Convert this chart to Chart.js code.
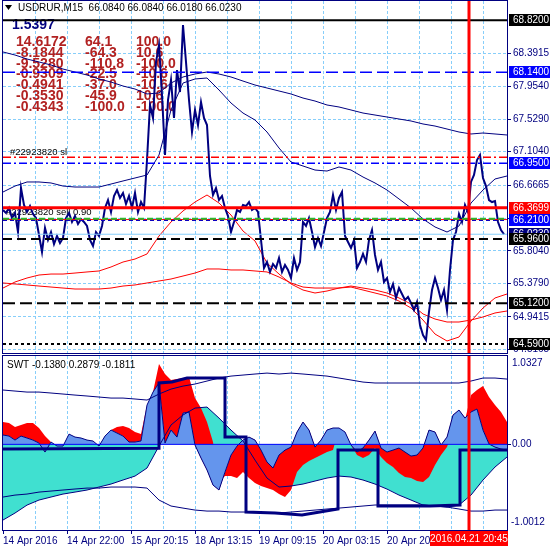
<!DOCTYPE html>
<html>
<head>
<meta charset="utf-8">
<script src="https://cdn.jsdelivr.net/npm/chart.js@4.4.1/dist/chart.umd.min.js"></script>
<style>
  html, body { margin: 0; padding: 0; background: #fff; }
  #wrap { position: relative; width: 550px; height: 550px; overflow: hidden; background: #fff; }
  canvas { position: absolute; left: 0; }
  #main { top: 0; }
  #sub { top: 354px; }
</style>
</head>
<body>
<div id="wrap">
  <canvas id="main" width="550" height="354"></canvas>
  <canvas id="sub" width="550" height="196"></canvas>
</div>
<script>
// ---- data (x = bar position, 1 unit per pixel column) ----
const priceClose = [
  66.340, 66.301, 66.366, 66.235, 66.301, 66.052, 66.627, 66.405, 66.314, 66.392,
  66.287, 66.235, 66.013, 65.791, 66.105, 65.948, 66.052, 65.895, 66.000, 65.908,
  65.974, 66.235, 66.301, 66.183, 66.261, 66.157, 66.222, 66.183, 66.131, 65.948,
  65.869, 66.052, 66.000, 66.131, 66.366, 66.470, 66.314, 66.523, 66.601, 66.497,
  66.562, 66.418, 66.523, 66.366, 66.562, 66.314, 66.444, 66.366, 66.993, 67.712,
  67.542, 68.274, 68.496, 67.843, 67.058, 67.777, 68.038, 67.542, 68.169, 67.882,
  68.757, 68.274, 67.777, 67.359, 67.647, 67.450, 67.751, 67.542, 67.450, 66.784,
  66.536, 66.627, 66.470, 66.523, 66.366, 66.261, 66.052, 66.183, 66.340, 66.314,
  66.405, 66.392, 66.444, 66.340, 66.366, 66.314, 65.948, 65.582, 65.660, 65.530,
  65.634, 65.582, 65.712, 65.530, 65.621, 65.556, 65.451, 65.712, 65.556, 65.660,
  66.183, 66.131, 66.235, 66.052, 65.856, 65.974, 65.869, 66.052, 66.235, 66.314,
  66.536, 66.340, 66.497, 66.575, 66.000, 65.921, 65.843, 65.948, 65.582, 65.660,
  65.765, 65.660, 65.948, 66.078, 65.752, 65.556, 65.660, 65.399, 65.451, 65.268,
  65.373, 65.190, 65.320, 65.242, 65.164, 65.203, 65.124, 65.033, 65.138, 64.837,
  64.706, 64.641, 65.007, 65.294, 65.451, 65.320, 65.164, 65.294, 65.033, 65.556,
  65.948, 66.052, 66.287, 66.183, 66.405, 66.314, 66.706, 66.797, 66.993, 67.058,
  66.758, 66.653, 66.470, 66.444, 66.457, 66.183, 66.078, 66.023
];
const priceStep = 3;

const bandHigh = [68.405, 68.365, 68.313, 68.274, 68.235, 68.182, 68.143, 68.104, 68.052, 68.012,
  67.960, 67.921, 67.856, 67.869, 67.999, 68.078, 68.117, 68.143, 68.117, 68.078,
  68.025, 67.973, 67.934, 67.895, 67.856, 67.803, 67.764, 67.712, 67.686, 67.647,
  67.607, 67.581, 67.555, 67.529, 67.503, 67.464, 67.437, 67.398, 67.359, 67.333,
  67.346, 67.333, 67.320];
const bandMid = [66.575, 66.653, 66.706, 66.706, 66.693, 66.653, 66.640, 66.640, 66.640, 66.679,
  66.719, 66.758, 66.797, 67.058, 67.647, 67.999, 68.052, 68.065, 67.908, 67.738,
  67.607, 67.516, 67.359, 67.150, 66.967, 66.915, 66.862, 66.849, 66.902, 66.862,
  66.771, 66.693, 66.601, 66.484, 66.366, 66.222, 66.118, 66.052, 66.131, 66.431,
  66.601, 66.745, 66.784];
const maFast = [65.320, 65.399, 65.451, 65.490, 65.503, 65.503, 65.516, 65.530, 65.543, 65.595,
  65.660, 65.699, 65.765, 66.000, 66.183, 66.327, 66.444, 66.536, 66.431, 66.274,
  66.065, 65.935, 65.647, 65.503, 65.373, 65.294, 65.255, 65.281, 65.320, 65.333,
  65.294, 65.255, 65.216, 65.150, 65.059, 64.902, 64.719, 64.628, 64.680, 64.889,
  65.059, 65.190, 65.242];
const maSlow = [65.386, 65.373, 65.360, 65.346, 65.333, 65.320, 65.307, 65.307, 65.307, 65.320,
  65.346, 65.360, 65.386, 65.412, 65.438, 65.477, 65.516, 65.569, 65.569, 65.556,
  65.556, 65.543, 65.530, 65.464, 65.386, 65.333, 65.320, 65.320, 65.320, 65.346,
  65.320, 65.294, 65.255, 65.190, 65.111, 64.981, 64.915, 64.876, 64.876, 64.902,
  64.942, 64.994, 65.020];
const lineStep = 12;

// horizontal chart objects and their axis tags
const levelPrices = [68.82, 68.14, 67.03, 66.95, 66.3699, 66.225, 66.215, 66.21, 66.023, 65.96, 65.12, 64.59];
const boxPrices = [68.82, 68.14, 66.95, 66.3699, 66.023, 66.21, 65.96, 65.12, 64.59];
const priceTicks = [68.3915, 67.9540, 67.5290, 67.1040, 66.6665, 66.2352, 65.8040, 65.3790, 64.9415, 64.5165];

// SWT sub window
const swtFast = [0.109, 0.097, 0.050, 0.097, 0.074, 0.050, 0.015, -0.090, 0.027, -0.020,
  -0.020, 0.120, 0.085, 0.074, 0.050, 0.039, -0.020, 0.097, 0.167, 0.132,
  0.097, 0.027, 0.027, 0.039, 0.459, 0.611, 0.717, 0.015, 0.167, 0.085,
  0.366, 0.378, -0.008, -0.160, -0.300, -0.476, -0.534, -0.324, -0.125, -0.020,
  0.050, 0.085, 0.050, -0.067, -0.207, -0.277, -0.125, -0.067, -0.032, 0.144,
  0.261, 0.167, -0.032, 0.050, 0.167, 0.191, 0.191, 0.144, -0.008, -0.090,
  -0.043, 0.050, 0.155, -0.043, -0.090, -0.067, -0.043, -0.090, -0.137, -0.125,
  -0.043, 0.167, 0.144, -0.008, 0.085, 0.342, 0.401, 0.307, 0.378, 0.413,
  0.167, 0.004, -0.032, -0.055, -0.067];
const swtSignal = [0.261, 0.249, 0.202, 0.226, 0.249, 0.249, 0.191, 0.097, 0.027, -0.020,
  -0.020, 0.120, 0.085, 0.074, 0.050, 0.039, -0.020, 0.097, 0.167, 0.202,
  0.214, 0.191, 0.144, 0.120, 0.459, 0.611, 0.939, 0.822, 0.752, 0.763,
  0.775, 0.787, 0.541, 0.424, 0.261, 0.027, -0.441, -0.371, -0.371, -0.394,
  -0.324, -0.394, -0.452, -0.487, -0.511, -0.534, -0.581, -0.616, -0.534, -0.324,
  -0.242, -0.195, -0.160, -0.125, -0.090, -0.067, 0.191, 0.144, -0.008, -0.125,
  -0.160, -0.125, -0.043, -0.148, -0.219, -0.265, -0.335, -0.382, -0.394, -0.429,
  -0.441, -0.382, -0.242, -0.125, -0.032, 0.167, 0.307, 0.284, 0.576, 0.635,
  0.681, 0.553, 0.459, 0.378, 0.261];
const swtStep = 6;
const swtSlow = [-0.885, -0.803, -0.710, -0.651, -0.616, -0.581, -0.558, -0.534, -0.499, -0.464,
  -0.417, -0.371, -0.277, -0.020, 0.226, 0.343, 0.424, 0.436, 0.307, 0.167,
  0.039, -0.184, -0.394, -0.499, -0.487, -0.464, -0.429, -0.394, -0.371, -0.382,
  -0.417, -0.464, -0.523, -0.593, -0.651, -0.710, -0.721, -0.733, -0.710, -0.593,
  -0.417, -0.265, -0.148];
const swtUpper = [0.635, 0.623, 0.611, 0.611, 0.600, 0.588, 0.576, 0.565, 0.553, 0.541,
  0.541, 0.530, 0.518, 0.588, 0.646, 0.681, 0.705, 0.740, 0.775, 0.798,
  0.810, 0.822, 0.833, 0.822, 0.833, 0.822, 0.810, 0.798, 0.775, 0.752,
  0.728, 0.717, 0.717, 0.717, 0.717, 0.717, 0.717, 0.717, 0.717, 0.740,
  0.775, 0.775, 0.763];
const swtLower = [-0.616, -0.593, -0.581, -0.558, -0.546, -0.534, -0.522, -0.511, -0.511, -0.499,
  -0.499, -0.499, -0.511, -0.651, -0.721, -0.745, -0.768, -0.780, -0.780, -0.791,
  -0.791, -0.791, -0.803, -0.803, -0.791, -0.780, -0.768, -0.756, -0.745, -0.733,
  -0.721, -0.709, -0.709, -0.709, -0.709, -0.709, -0.721, -0.733, -0.756, -0.780,
  -0.780, -0.768, -0.768];
const trailBars = [0, 156, 156, 169, 184, 222, 222, 243, 243, 272, 299, 335, 335, 375, 375, 427, 457, 457, 504];
const trailValues = [-0.055, -0.045, 0.717, 0.728, 0.775, 0.775, 0.085, 0.085, -0.791, -0.803,
  -0.826, -0.756, -0.067, -0.067, -0.721, -0.721, -0.709, -0.067, -0.067];

// time axis
const gridBars = [32, 64, 96, 128, 160, 192, 224, 256, 288, 320, 352, 384, 416, 448, 480];
const timeLabelBars = [0, 64, 128, 192, 256, 320, 384, 448];
const timeLabels = ['14 Apr 2016', '14 Apr 22:00', '15 Apr 20:15', '18 Apr 13:15',
  '19 Apr 09:15', '20 Apr 03:15', '20 Apr 20:45', '21 Apr 13:45'];
const markerBar = 466;
const markerLabel = '2016.04.21 20:45';

const headerText = 'USDRUR,M15  66.0840 66.0840 66.0180 66.0230';
const spreadText = '1.5397';
const statRows = [
  ['14.6172', '64.1', '100.0'],
  ['-8.1844', '-64.3', '10.6'],
  ['-9.5280', '-110.8', '-100.0'],
  ['-0.9309', '-22.5', '-10.6'],
  ['-0.4941', '-37.0', '-10.6'],
  ['-0.3530', '-45.9', '10.6'],
  ['-0.4343', '-100.0', '-100.0']
];
const orderSlText = '#22923820 sl';
const orderText = '#22923820 sell 0.90';
const swtText = 'SWT -0.1380 0.2879 -0.1811';

// ---- styles ----
const NAVY = '#000080';
const GRID = '#87cefa';
const FONT = '"Liberation Sans", Arial, sans-serif';
const levelStyles = [
  ['#000000', 2, []],
  ['#0000ff', 1.5, [12, 5]],
  ['#ff0000', 1.5, [8, 3, 2, 3]],
  ['#0000ff', 1.5, [8, 3, 2, 3]],
  ['#ff0000', 3, []],
  ['#2db82d', 2, [6, 3]],
  ['#ff0000', 1, []],
  ['#0000cc', 2, [4, 3]],
  ['#87cefa', 1, []],
  ['#000000', 2, [9, 5]],
  ['#000000', 2, [12, 5]],
  ['#000000', 2, [3, 3]]
];
const boxColors = ['#000000', '#0000ff', '#0000ff', '#ff0000', NAVY, '#0000ff', '#000000', '#000000', '#000000'];

Chart.defaults.font.family = FONT;
Chart.defaults.font.size = 10;
Chart.defaults.color = NAVY;

const X_MIN = 0, X_MAX = 504;
const toPoints = (vals, step) => vals.map((v, i) => ({x: i * step, y: v}));
const line = (label, data, color, width, order, extra) => Object.assign({
  label: label, data: data, borderColor: color, borderWidth: width,
  pointRadius: 0, tension: 0, fill: false, order: order
}, extra || {});

function drawFrame(ctx, a) {
  ctx.strokeStyle = NAVY;
  ctx.lineWidth = 1;
  ctx.setLineDash([]);
  ctx.strokeRect(Math.round(a.left) - 0.5, Math.round(a.top) - 0.5,
    Math.round(a.right - a.left) + 1, Math.round(a.bottom - a.top) + 1);
}

function drawMarker(chart) {
  const {ctx, chartArea: a, scales: {x}} = chart;
  const vx = x.getPixelForValue(markerBar);
  ctx.strokeStyle = '#ff0000';
  ctx.lineWidth = 3;
  ctx.setLineDash([]);
  ctx.beginPath();
  ctx.moveTo(vx, a.top);
  ctx.lineTo(vx, a.bottom);
  ctx.stroke();
  return vx;
}

// ---- main price window ----
const mainText = {
  id: 'mainText',
  beforeDatasetsDraw(chart) {
    const {ctx} = chart;
    ctx.save();
    ctx.textBaseline = 'middle';
    ctx.textAlign = 'left';
    // title
    ctx.fillStyle = '#000000';
    ctx.beginPath();
    ctx.moveTo(5, 5); ctx.lineTo(12, 5); ctx.lineTo(8.5, 10); ctx.closePath();
    ctx.fill();
    ctx.font = '10px ' + FONT;
    ctx.fillText(headerText, 18, 8);
    // spread
    ctx.fillStyle = NAVY;
    ctx.font = 'bold 14px ' + FONT;
    ctx.fillText(spreadText, 12, 25);
    // stats table
    ctx.fillStyle = '#b22222';
    ctx.font = 'bold 14px ' + FONT;
    const cols = [16, 85, 136];
    statRows.forEach((row, r) => {
      row.forEach((t, c) => ctx.fillText(t, cols[c], 42 + r * 10.83));
    });
    // order labels
    ctx.fillStyle = '#000000';
    ctx.font = '9.5px ' + FONT;
    ctx.fillText(orderSlText, 10, 152.5);
    ctx.fillText(orderText, 6, 212.5);
    ctx.restore();
  },
  afterDraw(chart) {
    const {ctx, chartArea: a, scales: {y}} = chart;
    ctx.save();
    drawMarker(chart);
    drawFrame(ctx, a);
    ctx.font = '10px ' + FONT;
    ctx.textBaseline = 'middle';
    ctx.textAlign = 'left';
    boxPrices.forEach((p, i) => {
      const py = Math.round(y.getPixelForValue(p));
      ctx.fillStyle = boxColors[i];
      ctx.fillRect(a.right + 2, py - 6, 550 - a.right - 2, 12);
      ctx.fillStyle = '#ffffff';
      ctx.fillText(p.toFixed(4), a.right + 6, py + 0.5);
    });
    ctx.restore();
  }
};

const mainDatasets = [
  line('USDRUR', toPoints(priceClose, priceStep), NAVY, 2, 3),
  line('Band high', toPoints(bandHigh, lineStep), NAVY, 1, 6),
  line('Band mid', toPoints(bandMid, lineStep), NAVY, 1, 6),
  line('MA fast', toPoints(maFast, lineStep), '#ff0000', 1, 5),
  line('MA slow', toPoints(maSlow, lineStep), '#ff0000', 1, 5)
];
levelPrices.forEach((p, i) => {
  const s = levelStyles[i];
  mainDatasets.push(line('level ' + p, [{x: X_MIN, y: p}, {x: X_MAX, y: p}], s[0], s[1], 1, {borderDash: s[2]}));
});

new Chart(document.getElementById('main'), {
  type: 'line',
  data: {datasets: mainDatasets},
  options: {
    responsive: false,
    animation: false,
    devicePixelRatio: 1,
    layout: {padding: {left: 3, top: 1, right: 0, bottom: 1}, autoPadding: false},
    plugins: {legend: {display: false}, tooltip: {enabled: false}},
    scales: {
      x: {
        type: 'linear', min: X_MIN, max: X_MAX,
        afterBuildTicks: s => { s.ticks = gridBars.map(v => ({value: v})); },
        afterFit: s => { s.height = 0; s.paddingLeft = 0; s.paddingRight = 0; },
        ticks: {display: false},
        grid: {color: GRID, drawTicks: false, lineWidth: 1},
        border: {display: false, dash: [3, 2]}
      },
      y: {
        type: 'linear', position: 'right', min: 64.471, max: 69.0711,
        afterBuildTicks: s => { s.ticks = priceTicks.map(v => ({value: v})); },
        afterFit: s => { s.width = 43; s.paddingTop = 0; s.paddingBottom = 0; },
        ticks: {callback: v => v.toFixed(4), padding: 2, autoSkip: false, color: NAVY},
        grid: {color: GRID, tickColor: NAVY, tickLength: 4, tickBorderDash: []},
        border: {display: true, color: NAVY, dash: [3, 2]}
      }
    }
  },
  plugins: [mainText]
});

// ---- SWT sub window ----
const subText = {
  id: 'subText',
  afterDraw(chart) {
    const {ctx, chartArea: a, scales: {y}} = chart;
    ctx.save();
    const vx = drawMarker(chart);
    drawFrame(ctx, a);
    ctx.font = '10px ' + FONT;
    ctx.textBaseline = 'middle';
    ctx.textAlign = 'left';
    ctx.fillStyle = '#000000';
    ctx.fillText(swtText, 7, a.top + 9);
    ctx.fillStyle = NAVY;
    ctx.fillText(y.max.toFixed(4), a.right + 5, a.top + 7);
    ctx.fillText((0).toFixed(2), a.right + 5, y.getPixelForValue(0));
    ctx.fillText(y.min.toFixed(4), a.right + 4, a.bottom - 8);
    // time tag of the vertical marker
    ctx.fillStyle = '#ff0000';
    ctx.fillRect(Math.round(vx) - 39, a.bottom + 1, 78, 15);
    ctx.fillStyle = '#ffffff';
    ctx.textAlign = 'center';
    ctx.fillText(markerLabel, vx, a.bottom + 9);
    ctx.restore();
  }
};

const BLUE_FILL = '#6495ed', RED_FILL = '#ff0000', TURQ_FILL = '#40e0d0';

new Chart(document.getElementById('sub'), {
  type: 'line',
  data: {
    datasets: [
      line('Trail', trailBars.map((b, i) => ({x: b, y: trailValues[i]})), NAVY, 3, 1),
      line('Upper', toPoints(swtUpper, lineStep), NAVY, 1, 2),
      line('Lower', toPoints(swtLower, lineStep), NAVY, 1, 2),
      line('Slow', toPoints(swtSlow, lineStep), NAVY, 1, 3),
      line('Zero', [{x: X_MIN, y: 0}, {x: X_MAX, y: 0}], '#0000ff', 1, 4),
      line('Fast', toPoints(swtFast, swtStep), NAVY, 1, 5,
        {fill: {target: 'origin', above: BLUE_FILL, below: BLUE_FILL}}),
      line('Signal', toPoints(swtSignal, swtStep), 'rgba(0,0,0,0)', 0, 6,
        {fill: {target: 5, above: RED_FILL, below: RED_FILL}}),
      line('Slow area', toPoints(swtSlow, lineStep), 'rgba(0,0,0,0)', 0, 7,
        {fill: {target: 'origin', above: TURQ_FILL, below: TURQ_FILL}})
    ]
  },
  options: {
    responsive: false,
    animation: false,
    devicePixelRatio: 1,
    layout: {padding: {left: 3, top: 2, right: 0, bottom: 0}, autoPadding: false},
    plugins: {legend: {display: false}, tooltip: {enabled: false}},
    scales: {
      x: {
        type: 'linear', min: X_MIN, max: X_MAX, position: 'bottom',
        afterBuildTicks: s => { s.ticks = [0].concat(gridBars).map(v => ({value: v})); },
        afterFit: s => { s.height = 20; s.paddingLeft = 0; s.paddingRight = 0; },
        ticks: {
          autoSkip: false, maxRotation: 0, minRotation: 0, align: 'start', padding: 1, color: NAVY,
          callback: v => { const k = timeLabelBars.indexOf(v); return k < 0 ? '' : timeLabels[k]; }
        },
        grid: {
          color: c => (c.tick && c.tick.value === 0) ? 'rgba(0,0,0,0)' : GRID,
          tickColor: c => (c.tick && timeLabelBars.indexOf(c.tick.value) >= 0) ? NAVY : 'rgba(0,0,0,0)',
          tickLength: 4, tickBorderDash: []
        },
        border: {display: true, color: NAVY, dash: [3, 2]}
      },
      y: {
        type: 'linear', position: 'right', min: -1.0012, max: 1.0327,
        afterBuildTicks: s => { s.ticks = [{value: 0}]; },
        afterFit: s => { s.width = 43; s.paddingTop = 0; s.paddingBottom = 0; },
        ticks: {display: false},
        grid: {drawOnChartArea: false, tickColor: NAVY, tickLength: 4},
        border: {display: true, color: NAVY}
      }
    }
  },
  plugins: [subText]
});
</script>
</body>
</html>
